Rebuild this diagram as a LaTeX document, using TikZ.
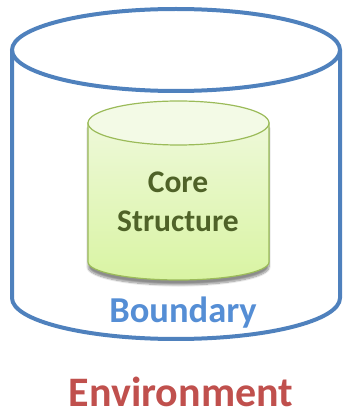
\documentclass[tikz,border=0pt]{standalone}
\usepackage{fontspec}
\setmainfont{Carlito}
\usepackage{tikz}
\usetikzlibrary{shadows.blur,positioning,calc}

\definecolor{boundblue}{HTML}{4F81BD}
\definecolor{boundtext}{HTML}{558ED5}
\definecolor{coreline}{HTML}{9BBB59}
\definecolor{coretop}{HTML}{F3FAE6}
\definecolor{corelow}{HTML}{D9F4A3}
\definecolor{coretext}{HTML}{4F6228}
\definecolor{envred}{HTML}{C0504D}

\begin{document}
\begin{tikzpicture}[x=1pt,y=1pt,
    outer/.style={draw=boundblue,line width=4pt},
    core/.style={draw=coreline,line width=1.2pt},
    label/.style={font=\bfseries,align=center,inner sep=0pt,anchor=base}]
  \useasboundingbox (0,0) rectangle (343,413);

  % outer cylinder (boundary)
  \draw[outer] (12,363) -- (12,115)
    arc[start angle=180,end angle=360,x radius=164,y radius=41] -- (340,363);
  \draw[outer] (176,363) ellipse [x radius=164,y radius=41];

  % inner cylinder (core)
  \path[blur shadow={shadow xshift=0pt,shadow yshift=-5pt,shadow blur steps=10,shadow opacity=45}]
    (88,290) -- (88,151)
    arc[start angle=180,end angle=360,x radius=90.5,y radius=18] -- (269,290) -- cycle;
  \draw[core,top color=coretop!80!corelow,bottom color=corelow] (88,290) -- (88,151)
    arc[start angle=180,end angle=360,x radius=90.5,y radius=18] -- (269,290) -- cycle;
  \draw[core,fill=coretop] (178.5,290) ellipse [x radius=90.5,y radius=22];

  \node[label,text=coretext,font=\bfseries\fontsize{31.5}{39}\selectfont] (core) at (178,220) {Core};
  \node[label,text=coretext,font=\bfseries\fontsize{31.5}{39}\selectfont] (structure) at (178,181) {Structure};
  \node[label,text=boundtext,font=\bfseries\fontsize{36.5}{44}\selectfont] (boundary) at (183,90) {Boundary};
  \node[label,text=envred,font=\bfseries\fontsize{42}{50}\selectfont] (env) at (181,6) {Environment};
\end{tikzpicture}
\end{document}
